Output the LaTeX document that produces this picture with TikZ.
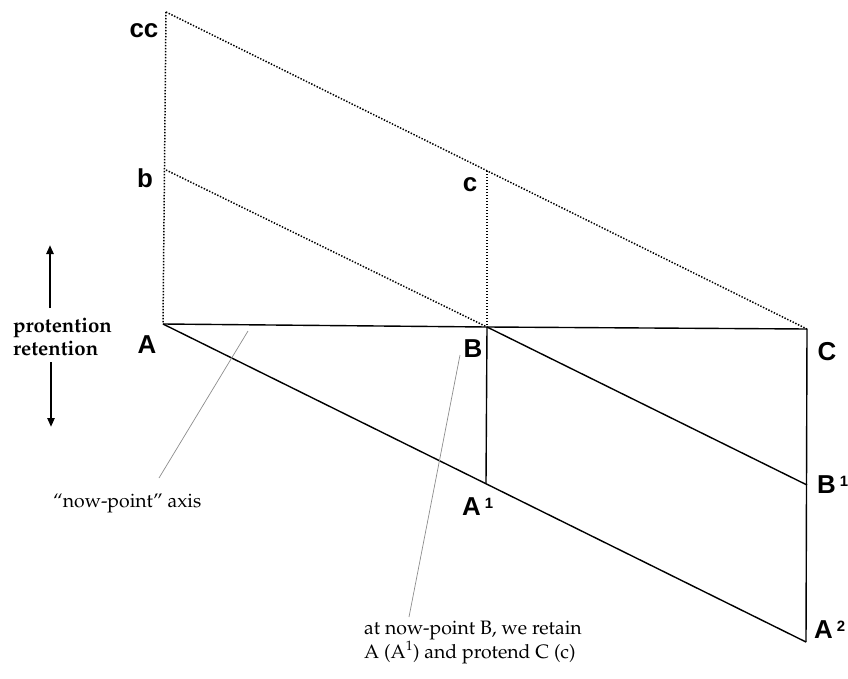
\documentclass[tikz,border=0pt]{standalone}
\usepackage[T1]{fontenc}
\usepackage{fontspec}
\newfontfamily\lblfont{Liberation Sans}
\usetikzlibrary{arrows.meta}
\newcommand{\palfont}{\fontencoding{T1}\fontfamily{ppl}\selectfont}
\newcommand{\supnum}[1]{\hspace{4bp}\raisebox{7bp}{\fontsize{15}{15}\selectfont #1}}
\begin{document}
\begin{tikzpicture}[x=1bp,y=-1bp,
  solidline/.style={line width=1.4bp, black},
  dotline/.style={line width=1.5bp, black, dash pattern=on 1.4bp off 1.6bp},
  pointer/.style={line width=0.7bp, black!45},
  lbl/.style={font=\lblfont\bfseries\fontsize{26}{26}\selectfont, inner sep=0pt},
  serifbold/.style={font=\palfont\bfseries\fontsize{20.5}{20.5}\selectfont, inner sep=0pt, anchor=base west},
  serif/.style={font=\palfont\fontsize{19.5}{20}\selectfont, inner sep=0pt, anchor=base west},
  bigarrow/.style={line width=2.6bp, -{Triangle[length=9bp,width=7bp]}}
]
\useasboundingbox (0,0) rectangle (848,679);

% points
\coordinate (A) at (163,324);
\coordinate (B) at (487,327);
\coordinate (C) at (807,329);
\coordinate (cc) at (166,12);
\coordinate (bp) at (166,170);
\coordinate (cp) at (487,171);
\coordinate (A1) at (486,483);
\coordinate (B1) at (807,485);
\coordinate (A2) at (806,642);

% dotted lines
\draw[dotline] (cc) -- (C);
\draw[dotline] (bp) -- (B);
\draw[dotline] (cc) -- (A);
\draw[dotline] (cp) -- (B);

% solid lines
\draw[solidline] (A) -- (B) -- (C);
\draw[solidline] (A) -- (A2);
\draw[solidline] (B) -- (B1);
\draw[solidline] (B) -- (A1);
\draw[solidline] (C) -- (A2);

% labels
\node[lbl, anchor=base] (lcc) at (144,38) {cc};
\node[lbl, anchor=base] (lb) at (145,187) {b};
\node[lbl, anchor=base] (lc) at (470,191) {c};
\node[lbl, anchor=base] (lA) at (147,353) {A};
\node[lbl, anchor=base] (lB) at (473,357) {B};
\node[lbl, anchor=base] (lC) at (827,360) {C};
\node[lbl, anchor=base west] (lA1) at (462,515) {A\supnum{1}};
\node[lbl, anchor=base west] (lB1) at (817,493) {B\supnum{1}};
\node[lbl, anchor=base west] (lA2) at (814,638) {A\supnum{2}};

% protention / retention
\coordinate (upS) at (50,308);
\coordinate (upE) at (50,245);
\coordinate (dnS) at (51,362);
\coordinate (dnE) at (51,427);
\draw[bigarrow] (upS) -- (upE);
\draw[bigarrow] (dnS) -- (dnE);
\node[serifbold] (pro) at (13,332) {protention};
\node[serifbold] (ret) at (13,355) {retention};

% pointer lines and captions
\coordinate (p1a) at (248,331);
\coordinate (p1b) at (159,478);
\coordinate (p2a) at (460,355);
\coordinate (p2b) at (409,617);
\draw[pointer] (p1a) -- (p1b);
\draw[pointer] (p2a) -- (p2b);
\node[serif] (axis) at (53,507) {``now-point'' axis};
\node[serif, align=left] (cap) at (364,658) {at now-point B, we retain\\A (A\textsuperscript{1}) and protend C (c)};
\end{tikzpicture}
\end{document}
